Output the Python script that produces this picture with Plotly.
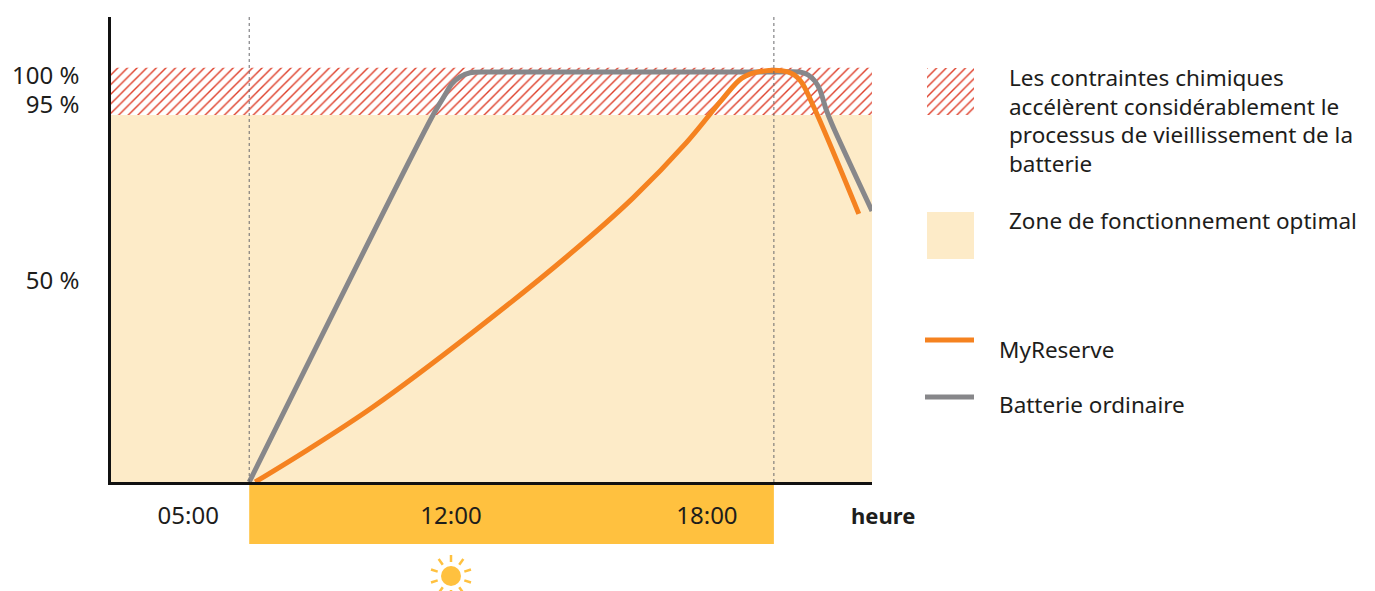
import math
import plotly.graph_objects as go

W, H = 1375, 591
FONT = "Noto Sans"
INK = "#1d1d1b"

# Data (hours of day, state of charge in %)
reserve_hours = [7.41, 8.63, 10.17, 12.52, 14.72, 16.27, 17.53, 18.35, 18.82, 19.24, 19.90, 20.18, 20.48, 21.56]
reserve_soc = [0, 7.8, 18.3, 36.6, 55.0, 69.3, 82.9, 93.2, 98.5, 100.1, 100, 98, 92, 65.4]
ordinary_hours = [7.27, 11.58, 11.86, 12.02, 12.21, 12.45, 12.80, 13.40, 19.60, 20.18, 20.37, 20.53, 20.65, 20.79, 20.93, 21.87]
ordinary_soc = [0, 89.5, 94.4, 97.1, 98.8, 99.8, 100, 100, 100, 100, 99.3, 97.8, 95.6, 91, 87.3, 66.1]

x_min, x_max = 4.03, 21.87
y_min, y_max = 0, 113.4
zone_bottom, zone_split, zone_top = 0, 89.5, 101
day_start, day_end = 7.27, 19.57
x_tick_vals = [5.84, 12, 18]
x_tick_text = ["05:00", "12:00", "18:00"]
y_tick_vals = [99, 92, 49.2]
y_tick_text = ["100 %", "95 %", "50 %"]
legend_hatch = ["Les contraintes chimiques", "accélèrent considérablement le", "processus de vieillissement de la", "batterie"]
legend_zone = "Zone de fonctionnement optimal"
series_names = ["MyReserve", "Batterie ordinaire"]

PEACH = "#FDEBC8"
BAND = "#FFC13F"
ORANGE = "#F58220"
GREY = "#87878A"
RED = "#DE3F2A"


def px(v):
    return v / W


def py(v):
    return 1 - v / H


hatch = dict(shape="/", size=6.8, solidity=0.2, fgcolor=RED, bgcolor="white", fillmode="replace")

fig = go.Figure()
fig.add_trace(go.Scatter(x=[x_min, x_max, x_max, x_min], y=[zone_bottom, zone_bottom, zone_split, zone_split],
                         fill="toself", fillcolor=PEACH, mode="none", showlegend=False, hoverinfo="skip"))
fig.add_trace(go.Scatter(x=[x_min, x_max, x_max, x_min], y=[zone_split, zone_split, zone_top, zone_top],
                         fill="toself", fillpattern=hatch, fillcolor="white", mode="none", showlegend=False, hoverinfo="skip"))
fig.add_trace(go.Scatter(x=[0, 1, 1, 0], y=[0, 0, 1, 1], xaxis="x2", yaxis="y2",
                         fill="toself", fillpattern=hatch, fillcolor="white", mode="none", showlegend=False, hoverinfo="skip"))
fig.add_trace(go.Scatter(x=ordinary_hours, y=ordinary_soc, mode="lines", name=series_names[1], showlegend=False,
                         line=dict(color=GREY, width=5, shape="spline", smoothing=0.8), cliponaxis=False))
fig.add_trace(go.Scatter(x=reserve_hours, y=reserve_soc, mode="lines", name=series_names[0], showlegend=False,
                         line=dict(color=ORANGE, width=5, shape="spline", smoothing=1.0), cliponaxis=False))

shapes = [
    # daylight band under the axis
    dict(type="rect", xref="x", yref="paper", x0=day_start, x1=day_end, y0=py(544), y1=py(482),
         fillcolor=BAND, line_width=0, layer="below"),
    # peach legend swatch
    dict(type="rect", xref="paper", yref="paper", x0=px(927), x1=px(974), y0=py(259), y1=py(212),
         fillcolor=PEACH, line_width=0),
    # legend lines
    dict(type="line", xref="paper", yref="paper", x0=px(925), x1=px(974), y0=py(340), y1=py(340),
         line=dict(color=ORANGE, width=5)),
    dict(type="line", xref="paper", yref="paper", x0=px(925), x1=px(974), y0=py(397), y1=py(397),
         line=dict(color=GREY, width=5)),
    # sun
    dict(type="circle", xref="paper", yref="paper", x0=px(441), x1=px(461), y0=py(586), y1=py(566),
         fillcolor=BAND, line_width=0),
]
for d in (day_start, day_end):
    shapes.append(dict(type="line", xref="x", yref="y", x0=d, x1=d, y0=y_min, y1=y_max,
                       line=dict(color="#6a6a6d", width=1, dash="dot"), layer="above"))
for k in range(10):
    a = math.radians(36 * k)
    shapes.append(dict(type="line", xref="paper", yref="paper",
                       x0=px(451 + 14 * math.sin(a)), x1=px(451 + 21 * math.sin(a)),
                       y0=py(576 - 14 * math.cos(a)), y1=py(576 - 21 * math.cos(a)),
                       line=dict(color=BAND, width=2.5)))

annotations = []


def label(x, y, text, size=22.5, weight=None):
    annotations.append(dict(xref="paper", yref="paper", x=px(x), y=py(y), text=text, showarrow=False,
                            xanchor="left", yanchor="middle", align="left",
                            font=dict(family=FONT, size=size, color=INK, weight=weight)))


for i, t in enumerate(legend_hatch):
    label(1007, 77.5 + i * 28.6, t)
label(1007, 220.5, legend_zone)
label(997, 349, series_names[0])
label(997, 405, series_names[1])
label(849, 515, "heure", size=22, weight=700)

fig.update_layout(
    width=W, height=H, autosize=False,
    margin=dict(l=0, r=0, t=0, b=0),
    paper_bgcolor="white", plot_bgcolor="white",
    shapes=shapes, annotations=annotations, showlegend=False,
    font=dict(family=FONT, size=24, color=INK),
    xaxis=dict(domain=[px(111), px(872)], range=[x_min, x_max], tickmode="array", tickvals=x_tick_vals,
               ticktext=x_tick_text, showgrid=False, zeroline=False, showline=True, linecolor="#111111", linewidth=2.5,
               ticks="", ticklabelstandoff=10, anchor="y"),
    yaxis=dict(domain=[py(482), py(17)], range=[y_min, y_max], tickmode="array", tickvals=y_tick_vals,
               ticktext=y_tick_text, showgrid=False, zeroline=False, showline=True, linecolor="#111111", linewidth=2.5,
               ticks="", ticklabelstandoff=24, anchor="x"),
    xaxis2=dict(domain=[px(927), px(974)], range=[0, 1], visible=False, anchor="y2"),
    yaxis2=dict(domain=[py(115), py(68)], range=[0, 1], visible=False, anchor="x2"),
)

fig.write_html("out.html", config={"displayModeBar": False}, post_script="document.body.style.margin='0';")
